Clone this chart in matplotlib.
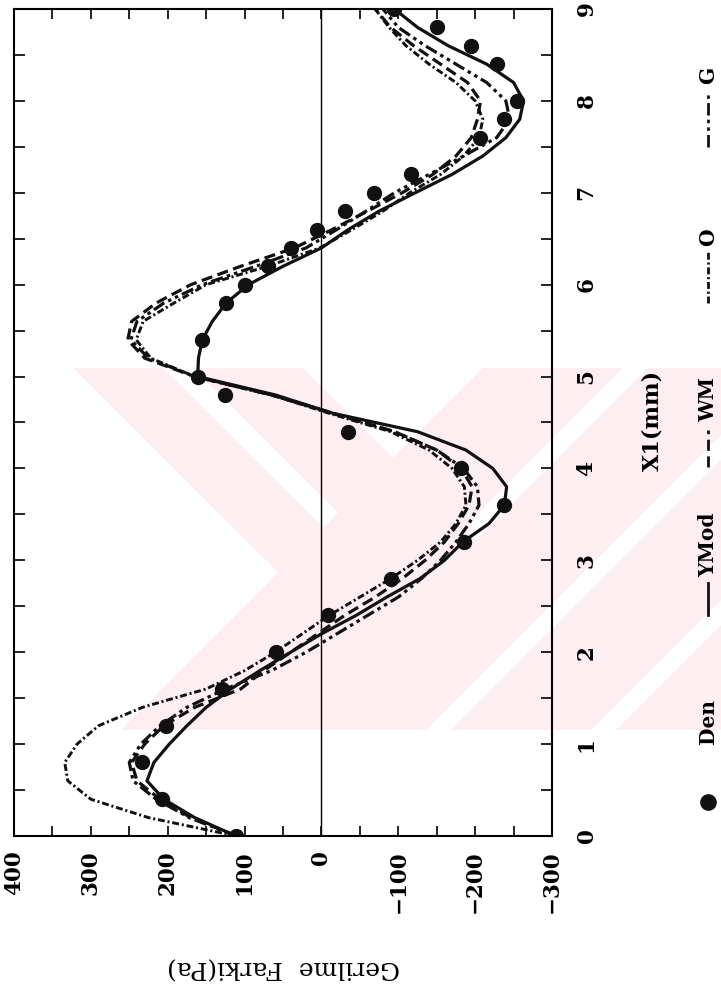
import matplotlib
matplotlib.use('Agg')
import matplotlib.pyplot as plt
from matplotlib.lines import Line2D
from matplotlib.patches import Polygon, Rectangle

# X1 (mm) positions of the model curves
x1 = [0.0, 0.2, 0.4, 0.6, 0.8, 1.0, 1.2, 1.4, 1.6, 1.8, 2.0, 2.2, 2.4, 2.6, 2.8,
      3.0, 3.2, 3.4, 3.6, 3.8, 4.0, 4.2, 4.4, 4.6, 4.8, 5.0, 5.2, 5.4, 5.6, 5.8,
      6.0, 6.2, 6.4, 6.6, 6.8, 7.0, 7.2, 7.4, 7.6, 7.8, 8.0, 8.2, 8.4, 8.6, 8.8, 9.0]

# Gerilme farki (Pa) for each model
ymod = [111, 165, 205, 227, 218, 198, 175, 150, 118, 80, 40, 0, -45, -85, -128,
        -160, -184, -218, -238, -241, -223, -188, -125, -15, 60, 161, 160, 155, 142, 124,
        95, 50, 0, -35, -75, -122, -170, -210, -240, -258, -263, -250, -215, -165, -125, -95]
wm = [111, 170, 210, 240, 247, 230, 205, 165, 105, 75, 40, 5, -30, -70, -105,
      -135, -160, -178, -192, -196, -182, -150, -95, -15, 65, 165, 230, 252, 247, 215,
      170, 105, 35, -14, -60, -105, -145, -175, -195, -203, -207, -190, -155, -120, -90, -70]
o_model = [111, 225, 300, 330, 334, 318, 290, 233, 150, 100, 60, 25, -10, -50, -90,
           -125, -155, -175, -188, -186, -170, -140, -90, -10, 65, 165, 222, 241, 232, 192,
           150, 70, 2, -40, -80, -115, -155, -185, -205, -210, -200, -175, -140, -110, -88, -70]
g_model = [111, 172, 215, 245, 250, 235, 210, 175, 125, 65, 20, -20, -60, -100, -130,
           -155, -175, -192, -205, -203, -185, -150, -95, -15, 65, 165, 225, 248, 240, 205,
           155, 85, 20, -20, -58, -95, -140, -185, -228, -245, -240, -215, -175, -135, -100, -80]

# experiment (Den)
den_x = [0.0, 0.4, 0.8, 1.2, 1.6, 2.0, 2.4, 2.8, 3.2, 3.6, 4.0, 4.4, 4.8, 5.0, 5.4,
         5.8, 6.0, 6.2, 6.4, 6.6, 6.8, 7.0, 7.2, 7.6, 7.8, 8.0, 8.4, 8.6, 8.8, 9.0]
den_pa = [111, 207, 233, 202, 130, 59, -8, -90, -185, -238, -182, -34, 126, 161, 155,
          124, 100, 70, 39, 6, -31, -69, -117, -206, -237, -254, -228, -194, -150, -95]

pa_ticks = [400, 300, 200, 100, 0, -100, -200, -300]
pa_labels = ['400', '300', '200', '100', '0', '\u2212100', '\u2212200', '\u2212300']
x1_ticks = list(range(10))

W, H = 721, 997
plt.rcParams['lines.scale_dashes'] = False
fig = plt.figure(figsize=(W / 100, H / 100), dpi=100)


def fx(px):
    return px / W


def fy(py):
    return 1 - py / H


# faint watermark behind everything
pink = '#fdeef1'
wm_parts = [
    [(73, 368), (163, 368), (373, 577), (223, 730), (133, 730), (283, 577)],
    [(193, 368), (303, 368), (513, 577), (363, 730), (253, 730), (403, 577)],
]
for c in [(851, 991), (1016, 1156), (1181, 1321), (1346, 1486)]:
    wm_parts.append([(c[0] - 368, 368), (c[1] - 368, 368), (c[1] - 730, 730), (c[0] - 730, 730)])
clip = Rectangle((fx(70), fy(730)), fx(721) - fx(70), fy(368) - fy(730),
                 transform=fig.transFigure, visible=False)
fig.add_artist(clip)
for part in wm_parts:
    poly = Polygon([(fx(a), fy(b)) for a, b in part], closed=True, transform=fig.transFigure,
                   facecolor=pink, edgecolor='none', zorder=0)
    fig.add_artist(poly)
    poly.set_clip_path(clip)

ax = fig.add_axes([fx(14), fy(836), fx(552) - fx(14), fy(9) - fy(836)])
ax.patch.set_alpha(0)

ax.axvline(0, color='black', lw=1)
ax.plot(ymod, x1, color='#111111', lw=2.3, ls='-')
ax.plot(wm, x1, color='#111111', lw=2.3, dashes=(8, 4))
ax.plot(o_model, x1, color='#111111', lw=2.1, dashes=(5, 2, 1.5, 2))
ax.plot(g_model, x1, color='#111111', lw=2.3, dashes=(9, 3, 2.5, 3, 2.5, 3))
ax.plot(den_pa, den_x, 'o', color='#111111', ms=10, ls='none')

ax.set_xlim(400, -300)
ax.set_ylim(0, 9)

font = dict(family='DejaVu Serif', weight='bold', size=15.5)
ax.set_xticks(pa_ticks)
ax.set_xticklabels(pa_labels, rotation=90, **font)
ax.set_xticks([350, 250, 150, 50, -50, -150, -250], minor=True)
ax.set_yticks(x1_ticks)
ax.set_yticklabels([str(t) for t in x1_ticks], rotation=90, va='center', **font)
ax.set_yticks([0.5 + i for i in range(9)], minor=True)

ax.tick_params(axis='x', which='both', direction='in', top=True, bottom=True,
               length=7, width=1.2, pad=10)
ax.tick_params(axis='y', which='both', direction='in', left=True, right=True,
               labelleft=False, labelright=True, length=8, width=1.2, pad=17)
for s in ax.spines.values():
    s.set_linewidth(1.5)

fig.text(fx(652), fy(420), 'X1(mm)', rotation=90, ha='center', va='center',
         family='DejaVu Serif', weight='bold', size=16)
fig.text(fx(283), fy(967), 'Gerilme  Farki(Pa)', rotation=180, ha='center', va='center',
         family='DejaVu Serif', size=18)

# legend, laid out along the rotated page
lx = 708
fig.add_artist(Line2D([fx(lx)], [fy(802)], marker='o', ms=11, color='#111111',
                      transform=fig.transFigure))
leg = [('Den', 721, None), ('YMod', 545, ((615, 583), {'ls': '-'})),
       ('WM', 400, ((467, 430), {'dashes': (8, 4)})),
       ('O', 237, ((303, 250), {'dashes': (5, 2, 1.5, 2)})),
       ('G', 75, ((147, 93), {'dashes': (9, 3, 2.5, 3, 2.5, 3)}))]
for name, ty, ln in leg:
    fig.text(fx(lx), fy(ty), name, rotation=90, ha='center', va='center',
             family='DejaVu Serif', weight='bold', size=14.5)
    if ln:
        (y0, y1), kw = ln
        fig.add_artist(Line2D([fx(lx), fx(lx)], [fy(y0), fy(y1)], color='#111111', lw=2,
                              transform=fig.transFigure, **kw))

fig.savefig('out.png', dpi=100)
